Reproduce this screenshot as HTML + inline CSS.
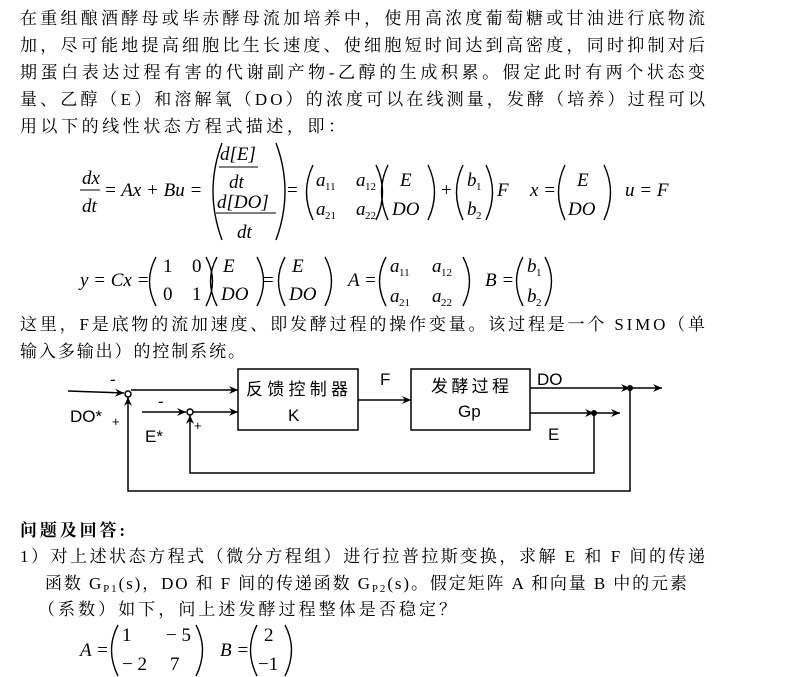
<!DOCTYPE html>
<html><head><meta charset="utf-8"><style>
html,body{margin:0;padding:0;background:#fff;width:787px;height:677px;overflow:hidden}
.c{font-family:"Liberation Serif","Noto Serif CJK SC",serif;font-size:17px;fill:#000}
.m{font-family:"Liberation Serif",serif;font-style:italic;font-size:19px;fill:#000}
.n{font-family:"Liberation Serif",serif;font-size:19px;fill:#000}
.s{font-family:"Liberation Serif",serif;font-size:11px;fill:#000}
.a{font-family:"Liberation Sans","Noto Sans CJK SC",sans-serif;font-size:17px;fill:#000}
.p{fill:none;stroke:#000;stroke-width:1.4}
</style></head><body>
<svg width="787" height="677" viewBox="0 0 787 677" xmlns="http://www.w3.org/2000/svg">
<defs><marker id="ar" markerWidth="10" markerHeight="8" refX="9" refY="4" orient="auto" markerUnits="userSpaceOnUse"><path d="M0,0 L9,4 L0,8 L3,4 z" fill="#000"/></marker></defs>
<text class="c" x="20" y="24" textLength="685" lengthAdjust="spacing">在重组酿酒酵母或毕赤酵母流加培养中，使用高浓度葡萄糖或甘油进行底物流</text>
<text class="c" x="20" y="51" textLength="685" lengthAdjust="spacing">加，尽可能地提高细胞比生长速度、使细胞短时间达到高密度，同时抑制对后</text>
<text class="c" x="20" y="78" textLength="685" lengthAdjust="spacing">期蛋白表达过程有害的代谢副产物-乙醇的生成积累。假定此时有两个状态变</text>
<text class="c" x="20" y="105" textLength="685" lengthAdjust="spacing">量、乙醇（E）和溶解氧（DO）的浓度可以在线测量，发酵（培养）过程可以</text>
<text class="c" x="20" y="132" textLength="325" lengthAdjust="spacing">用以下的线性状态方程式描述，即：</text>

<!-- eq1 -->
<text class="m" x="82" y="184">dx</text><line x1="80" y1="190" x2="100" y2="190" stroke="#000"/><text class="m" x="82" y="212">dt</text>
<text class="m" x="104" y="196">= Ax + Bu =</text>
<path class="p" d="M222,143 Q204,191 222,240"/><path class="p" d="M276,143 Q294,191 276,240"/>
<text class="m" x="220" y="160">d[E]</text><line x1="219" y1="167" x2="258" y2="167" stroke="#000"/><text class="m" x="229" y="188">dt</text>
<text class="m" x="217" y="208">d[DO]</text><line x1="216" y1="213" x2="276" y2="213" stroke="#000"/><text class="m" x="237" y="238">dt</text>
<text class="n" x="287" y="196">=</text>
<path class="p" d="M313,165 Q300,192 313,220"/><path class="p" d="M376,165 Q389,192 376,220"/>
<text class="m" x="316" y="186">a</text><text class="s" x="325" y="190">11</text><text class="m" x="356" y="186">a</text><text class="s" x="365" y="190">12</text>
<text class="m" x="316" y="215">a</text><text class="s" x="325" y="219">21</text><text class="m" x="356" y="215">a</text><text class="s" x="365" y="219">22</text>
<path class="p" d="M388,165 Q375,192 388,220"/><path class="p" d="M428,165 Q441,192 428,220"/>
<text class="m" x="400" y="186">E</text><text class="m" x="392" y="215">DO</text>
<text class="n" x="441" y="196">+</text>
<path class="p" d="M463,165 Q450,192 463,220"/><path class="p" d="M486,165 Q499,192 486,220"/>
<text class="m" x="467" y="186">b</text><text class="s" x="476" y="190">1</text><text class="m" x="467" y="215">b</text><text class="s" x="476" y="219">2</text>
<text class="m" x="497" y="196">F</text>
<text class="m" x="530" y="196">x =</text>
<path class="p" d="M565,165 Q552,192 565,220"/><path class="p" d="M604,165 Q617,192 604,220"/>
<text class="m" x="577" y="186">E</text><text class="m" x="568" y="215">DO</text>
<text class="m" x="625" y="196">u = F</text>

<!-- eq2 -->
<text class="m" x="80" y="286">y = Cx =</text>
<path class="p" d="M156,257 Q143,281 156,306"/><path class="p" d="M206,257 Q219,281 206,306"/>
<text class="n" x="163" y="272">1</text><text class="n" x="192" y="272">0</text><text class="n" x="163" y="300">0</text><text class="n" x="192" y="300">1</text>
<path class="p" d="M217,257 Q204,281 217,306"/><path class="p" d="M257,257 Q270,281 257,306"/>
<text class="m" x="223" y="272">E</text><text class="m" x="221" y="300">DO</text>
<text class="n" x="263" y="286">=</text>
<path class="p" d="M285,257 Q272,281 285,306"/><path class="p" d="M325,257 Q338,281 325,306"/>
<text class="m" x="292" y="272">E</text><text class="m" x="289" y="300">DO</text>
<text class="m" x="348" y="286">A =</text>
<path class="p" d="M386,257 Q373,281 386,306"/><path class="p" d="M463,257 Q476,281 463,306"/>
<text class="m" x="390" y="272">a</text><text class="s" x="399" y="276">11</text><text class="m" x="432" y="272">a</text><text class="s" x="441" y="276">12</text>
<text class="m" x="390" y="302">a</text><text class="s" x="399" y="306">21</text><text class="m" x="432" y="302">a</text><text class="s" x="441" y="306">22</text>
<text class="m" x="485" y="286">B =</text>
<path class="p" d="M523,257 Q510,281 523,306"/><path class="p" d="M545,257 Q558,281 545,306"/>
<text class="m" x="527" y="272">b</text><text class="s" x="536" y="276">1</text><text class="m" x="527" y="302">b</text><text class="s" x="536" y="306">2</text>

<text class="c" x="20" y="330" textLength="685" lengthAdjust="spacing">这里，F是底物的流加速度、即发酵过程的操作变量。该过程是一个 SIMO（单</text>
<text class="c" x="20" y="357" textLength="225" lengthAdjust="spacing">输入多输出）的控制系统。</text>

<!-- block diagram -->
<g stroke="#000" stroke-width="1.5" fill="none">
<rect x="238" y="369" width="120" height="61"/>
<rect x="411" y="369" width="119" height="61"/>
<circle cx="128" cy="394" r="3"/>
<circle cx="190" cy="412" r="3"/>
<line x1="68" y1="391" x2="124" y2="393" marker-end="url(#ar)"/>
<line x1="131" y1="390" x2="238" y2="390" marker-end="url(#ar)"/>
<line x1="142" y1="412" x2="186" y2="412" marker-end="url(#ar)"/>
<line x1="193" y1="412" x2="238" y2="412" marker-end="url(#ar)"/>
<line x1="358" y1="400" x2="411" y2="400" marker-end="url(#ar)"/>
<line x1="530" y1="388" x2="630" y2="388" marker-end="url(#ar)"/>
<line x1="630" y1="388" x2="662" y2="388" marker-end="url(#ar)"/>
<line x1="530" y1="413" x2="594" y2="413" marker-end="url(#ar)"/>
<line x1="594" y1="413" x2="620" y2="413" marker-end="url(#ar)"/>
<polyline points="594,413 594,473 190,473 190,415" marker-end="url(#ar)"/>
<polyline points="630,388 630,491 128,491 128,397" marker-end="url(#ar)"/>
</g>
<circle cx="630" cy="388" r="3" fill="#000"/><circle cx="594" cy="413" r="3" fill="#000"/>
<text class="a" x="110" y="385">-</text>
<text class="a" x="158" y="407">-</text>
<text class="a" x="70" y="422">DO*</text><text class="a" x="112" y="426" style="font-size:13px">+</text>
<text class="a" x="145" y="442">E*</text><text class="a" x="194" y="430" style="font-size:13px">+</text>
<text class="a" x="246" y="395" textLength="102" lengthAdjust="spacing">反馈控制器</text>
<text class="a" x="288" y="421">K</text>
<text class="a" x="380" y="385">F</text>
<text class="a" x="431" y="392" textLength="78" lengthAdjust="spacing">发酵过程</text>
<text class="a" x="458" y="417">Gp</text>
<text class="a" x="537" y="385">DO</text>
<text class="a" x="548" y="440">E</text>

<text class="c" x="20" y="536" style="font-weight:bold" textLength="105" lengthAdjust="spacing">问题及回答:</text>
<text class="c" x="20" y="562" textLength="685" lengthAdjust="spacing">1）对上述状态方程式（微分方程组）进行拉普拉斯变换，求解 E 和 F 间的传递</text>
<text class="c" x="45" y="589" style="letter-spacing:1.9px">函数 G<tspan font-size="11" dy="3">P1</tspan><tspan dy="-3">(s)，DO 和 F 间的传递函数 G</tspan><tspan font-size="11" dy="3">P2</tspan><tspan dy="-3">(s)。假定矩阵 A 和向量 B 中的元素</tspan></text>
<text class="c" x="38" y="615" textLength="418" lengthAdjust="spacing">（系数）如下，问上述发酵过程整体是否稳定？</text>
<text class="m" x="80" y="656">A =</text>
<path class="p" d="M118,625 Q105,650 118,676"/><path class="p" d="M196,625 Q209,650 196,676"/>
<text class="n" x="122" y="641">1</text><text class="n" x="166" y="641">− 5</text>
<text class="n" x="122" y="670">− 2</text><text class="n" x="170" y="670">7</text>
<text class="m" x="220" y="656">B =</text>
<path class="p" d="M257,625 Q244,650 257,676"/><path class="p" d="M285,625 Q298,650 285,676"/>
<text class="n" x="264" y="641">2</text><text class="n" x="258" y="670">−1</text>
</svg>
</body></html>
